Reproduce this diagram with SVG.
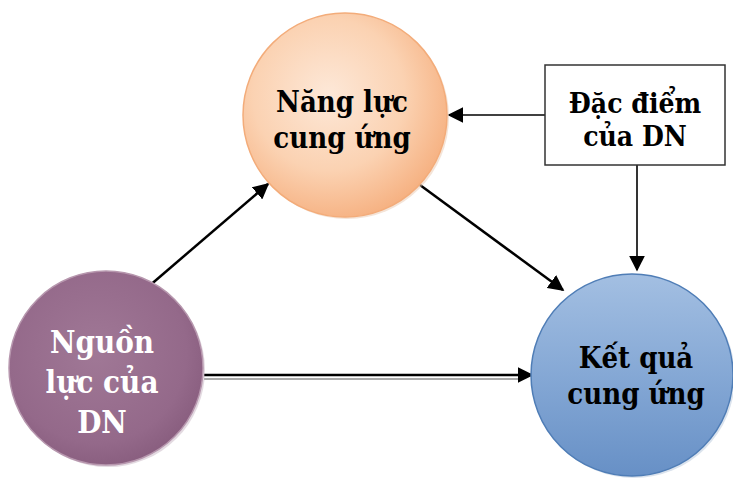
<svg xmlns="http://www.w3.org/2000/svg" width="733" height="481" viewBox="0 0 733 481">
<style>
.lbl{font-family:'DejaVu Serif Condensed','DejaVu Serif',serif;font-stretch:condensed;font-weight:700;text-anchor:middle;}
.con{stroke:#000;stroke-width:2.5;fill:none;marker-end:url(#ah);}
.thin{stroke:#000;stroke-width:1.6;fill:none;marker-end:url(#ah);}
</style>
<defs>
<marker id="ah" viewBox="0 0 10 10" refX="9" refY="5" markerWidth="16" markerHeight="16" markerUnits="userSpaceOnUse" orient="auto">
<path d="M0,0 L10,5 L0,10 z" fill="#000"/>
</marker>
<radialGradient id="gOr" cx="0.42" cy="0.4" r="0.62">
<stop offset="0" stop-color="#fde8d8"/>
<stop offset="0.6" stop-color="#fbd2b2"/>
<stop offset="1" stop-color="#f6b283"/>
</radialGradient>
<radialGradient id="gPu" cx="0.45" cy="0.42" r="0.62">
<stop offset="0" stop-color="#a07896"/>
<stop offset="0.75" stop-color="#94698a"/>
<stop offset="1" stop-color="#875c7d"/>
</radialGradient>
<linearGradient id="gBl" x1="0" y1="0" x2="0" y2="1">
<stop offset="0" stop-color="#a3bfe2"/>
<stop offset="0.5" stop-color="#85a8d5"/>
<stop offset="1" stop-color="#6790c6"/>
</linearGradient>
</defs>
<rect width="733" height="481" fill="#fff"/>
<g id="connectors">
<line class="thin" x1="545" y1="115" x2="449" y2="115"/>
<line class="thin" x1="637" y1="165" x2="637" y2="270"/>
<line class="con" x1="148" y1="287" x2="268" y2="184"/>
<line class="con" x1="420" y1="185" x2="563" y2="290"/>
<line x1="204" y1="379" x2="522" y2="379" stroke="#aaa" stroke-width="2"/>
<line class="con" x1="204" y1="375" x2="532" y2="375"/>
</g>
<g id="nang-luc">
<circle cx="347" cy="117" r="102" fill="#e9c9b2" opacity="0.5"/>
<circle cx="345" cy="115" r="102" fill="url(#gOr)" stroke="#f3ac7a" stroke-width="1.5"/>
<text class="lbl" x="342" y="112" font-size="29">Năng lực</text>
<text class="lbl" x="342" y="148" font-size="29">cung ứng</text>
</g>
<g id="dac-diem">
<rect x="545" y="65" width="180" height="100" fill="#fff" stroke="#333" stroke-width="1.5"/>
<text class="lbl" x="635" y="113" font-size="28">Đặc điểm</text>
<text class="lbl" x="635" y="146" font-size="28">của DN</text>
</g>
<g id="nguon-luc">
<circle cx="108" cy="370" r="97" fill="#c8b6c4" opacity="0.5"/>
<circle cx="106" cy="368" r="97" fill="url(#gPu)" stroke="#b797ae" stroke-width="1.5"/>
<text class="lbl" x="102" y="353" font-size="31" fill="#fff">Nguồn</text>
<text class="lbl" x="102" y="393" font-size="31" fill="#fff">lực của</text>
<text class="lbl" x="102" y="433" font-size="31" fill="#fff">DN</text>
</g>
<g id="ket-qua">
<circle cx="634" cy="377" r="101" fill="#b8c8dc" opacity="0.5"/>
<circle cx="632" cy="375" r="101" fill="url(#gBl)" stroke="#4f7db6" stroke-width="1.5"/>
<text class="lbl" x="636" y="368" font-size="29">Kết quả</text>
<text class="lbl" x="636" y="404" font-size="29">cung ứng</text>
</g>
</svg>
